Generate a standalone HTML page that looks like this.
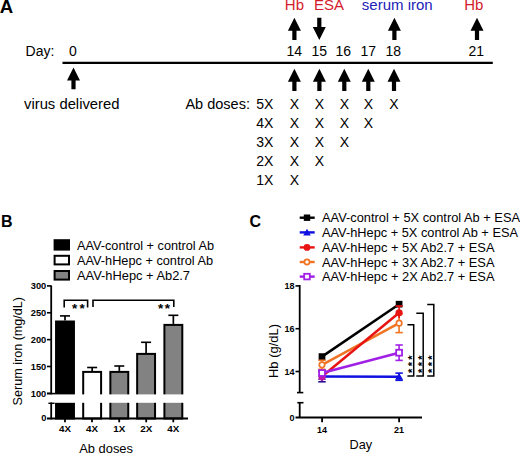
<!DOCTYPE html>
<html><head><meta charset="utf-8"><style>
html,body{margin:0;padding:0;background:#fff;width:520px;height:453px;overflow:hidden}
svg{display:block}
text{font-family:"Liberation Sans", sans-serif}
</style></head><body>
<svg width="520" height="453" viewBox="0 0 520 453">
<rect width="520" height="453" fill="#fff"/>
<text x="-0.3" y="12.7" font-size="18.6" fill="#000" font-weight="bold">A</text>
<text x="25.6" y="56.3" font-size="14" fill="#000">Day:</text>
<text x="72.8" y="56.3" font-size="14" fill="#000" text-anchor="middle">0</text>
<line x1="62.5" y1="62.8" x2="492.8" y2="62.8" stroke="#000" stroke-width="2.2"/>
<text x="294.3" y="56.0" font-size="14" fill="#000" text-anchor="middle">14</text>
<text x="319.3" y="56.0" font-size="14" fill="#000" text-anchor="middle">15</text>
<text x="343.2" y="56.0" font-size="14" fill="#000" text-anchor="middle">16</text>
<text x="368.2" y="56.0" font-size="14" fill="#000" text-anchor="middle">17</text>
<text x="393.2" y="56.0" font-size="14" fill="#000" text-anchor="middle">18</text>
<text x="476.3" y="56.0" font-size="14" fill="#000" text-anchor="middle">21</text>
<text x="284.8" y="10.2" font-size="15" fill="#d41c2c">Hb</text>
<text x="314.0" y="10.2" font-size="15" fill="#d41c2c">ESA</text>
<text x="361.8" y="10.2" font-size="15" fill="#2222b8">serum iron</text>
<text x="464.2" y="10.2" font-size="15" fill="#d41c2c">Hb</text>
<path d="M294.4,17.8 L300.9,30.8 L296.5,30.8 L296.5,40.0 L292.29999999999995,40.0 L292.29999999999995,30.8 L287.9,30.8 Z" fill="#000"/>
<path d="M319.3,39.9 L325.8,26.9 L321.40000000000003,26.9 L321.40000000000003,17.7 L317.2,17.7 L317.2,26.9 L312.8,26.9 Z" fill="#000"/>
<path d="M394.4,17.8 L400.9,30.8 L396.5,30.8 L396.5,40.0 L392.29999999999995,40.0 L392.29999999999995,30.8 L387.9,30.8 Z" fill="#000"/>
<path d="M477.0,17.8 L483.5,30.8 L479.1,30.8 L479.1,40.0 L474.9,40.0 L474.9,30.8 L470.5,30.8 Z" fill="#000"/>
<path d="M73.5,67.5 L80.0,80.5 L75.6,80.5 L75.6,89.2 L71.4,89.2 L71.4,80.5 L67.0,80.5 Z" fill="#000"/>
<path d="M294.4,68.8 L300.9,81.8 L296.5,81.8 L296.5,91.0 L292.29999999999995,91.0 L292.29999999999995,81.8 L287.9,81.8 Z" fill="#000"/>
<path d="M319.4,68.8 L325.9,81.8 L321.5,81.8 L321.5,91.0 L317.29999999999995,91.0 L317.29999999999995,81.8 L312.9,81.8 Z" fill="#000"/>
<path d="M344.3,68.8 L350.8,81.8 L346.40000000000003,81.8 L346.40000000000003,91.0 L342.2,91.0 L342.2,81.8 L337.8,81.8 Z" fill="#000"/>
<path d="M368.3,68.8 L374.8,81.8 L370.40000000000003,81.8 L370.40000000000003,91.0 L366.2,91.0 L366.2,81.8 L361.8,81.8 Z" fill="#000"/>
<path d="M394.0,68.8 L400.5,81.8 L396.1,81.8 L396.1,91.0 L391.9,91.0 L391.9,81.8 L387.5,81.8 Z" fill="#000"/>
<text x="24.0" y="108.5" font-size="14" fill="#000" textLength="95.5" lengthAdjust="spacingAndGlyphs">virus delivered</text>
<text x="185.4" y="108.9" font-size="14" fill="#000" textLength="64.6" lengthAdjust="spacingAndGlyphs">Ab doses:</text>
<text x="264.7" y="109.2" font-size="14" fill="#000" text-anchor="middle">5X</text>
<text x="294.4" y="109.2" font-size="14" fill="#000" text-anchor="middle">X</text>
<text x="319.4" y="109.2" font-size="14" fill="#000" text-anchor="middle">X</text>
<text x="344.3" y="109.2" font-size="14" fill="#000" text-anchor="middle">X</text>
<text x="368.3" y="109.2" font-size="14" fill="#000" text-anchor="middle">X</text>
<text x="394.0" y="109.2" font-size="14" fill="#000" text-anchor="middle">X</text>
<text x="264.7" y="128.17" font-size="14" fill="#000" text-anchor="middle">4X</text>
<text x="294.4" y="128.17" font-size="14" fill="#000" text-anchor="middle">X</text>
<text x="319.4" y="128.17" font-size="14" fill="#000" text-anchor="middle">X</text>
<text x="344.3" y="128.17" font-size="14" fill="#000" text-anchor="middle">X</text>
<text x="368.3" y="128.17" font-size="14" fill="#000" text-anchor="middle">X</text>
<text x="264.7" y="147.14" font-size="14" fill="#000" text-anchor="middle">3X</text>
<text x="294.4" y="147.14" font-size="14" fill="#000" text-anchor="middle">X</text>
<text x="319.4" y="147.14" font-size="14" fill="#000" text-anchor="middle">X</text>
<text x="344.3" y="147.14" font-size="14" fill="#000" text-anchor="middle">X</text>
<text x="264.7" y="166.11" font-size="14" fill="#000" text-anchor="middle">2X</text>
<text x="294.4" y="166.11" font-size="14" fill="#000" text-anchor="middle">X</text>
<text x="319.4" y="166.11" font-size="14" fill="#000" text-anchor="middle">X</text>
<text x="264.7" y="185.08" font-size="14" fill="#000" text-anchor="middle">1X</text>
<text x="294.4" y="185.08" font-size="14" fill="#000" text-anchor="middle">X</text>
<text x="1" y="227.4" font-size="16" fill="#000" font-weight="bold">B</text>
<rect x="54.6" y="240.2" width="14.4" height="9.4" fill="#000" stroke="#000" stroke-width="2"/>
<rect x="54.6" y="255.8" width="14.4" height="8.6" fill="#fff" stroke="#000" stroke-width="2"/>
<rect x="54.6" y="271.0" width="14.4" height="8.6" fill="#828282" stroke="#000" stroke-width="2"/>
<text x="77.0" y="249.8" font-size="13" fill="#000" textLength="137" lengthAdjust="spacingAndGlyphs">AAV-control + control Ab</text>
<text x="77.0" y="265.0" font-size="13" fill="#000" textLength="136" lengthAdjust="spacingAndGlyphs">AAV-hHepc + control Ab</text>
<text x="77.0" y="279.6" font-size="13" fill="#000" textLength="113" lengthAdjust="spacingAndGlyphs">AAV-hHepc + Ab2.7</text>
<line x1="51.2" y1="285.5" x2="51.2" y2="394.3" stroke="#000" stroke-width="1.8"/>
<line x1="51.2" y1="402.5" x2="51.2" y2="419.4" stroke="#000" stroke-width="1.8"/>
<line x1="47.0" y1="285.9" x2="51.2" y2="285.9" stroke="#000" stroke-width="1.6"/>
<text x="46.3" y="289.45" font-size="9.3" fill="#000" font-weight="bold" text-anchor="end">300</text>
<line x1="47.0" y1="312.7625" x2="51.2" y2="312.7625" stroke="#000" stroke-width="1.6"/>
<text x="46.3" y="316.3125" font-size="9.3" fill="#000" font-weight="bold" text-anchor="end">250</text>
<line x1="47.0" y1="339.625" x2="51.2" y2="339.625" stroke="#000" stroke-width="1.6"/>
<text x="46.3" y="343.175" font-size="9.3" fill="#000" font-weight="bold" text-anchor="end">200</text>
<line x1="47.0" y1="366.4875" x2="51.2" y2="366.4875" stroke="#000" stroke-width="1.6"/>
<text x="46.3" y="370.0375" font-size="9.3" fill="#000" font-weight="bold" text-anchor="end">150</text>
<line x1="47.0" y1="393.35" x2="51.2" y2="393.35" stroke="#000" stroke-width="1.6"/>
<text x="46.3" y="396.90000000000003" font-size="9.3" fill="#000" font-weight="bold" text-anchor="end">100</text>
<line x1="65.0" y1="315.9" x2="65.0" y2="320.5" stroke="#000" stroke-width="1.7"/>
<line x1="60.0" y1="315.9" x2="70.0" y2="315.9" stroke="#000" stroke-width="1.6"/>
<rect x="56.05" y="321.5" width="17.9" height="97.0" fill="#000" stroke="#000" stroke-width="2"/>
<line x1="92.15" y1="367.5" x2="92.15" y2="370.9" stroke="#000" stroke-width="1.7"/>
<line x1="87.15" y1="367.5" x2="97.15" y2="367.5" stroke="#000" stroke-width="1.6"/>
<rect x="83.2" y="371.9" width="17.9" height="46.60000000000002" fill="#fff" stroke="#000" stroke-width="2"/>
<line x1="119.3" y1="366.0" x2="119.3" y2="370.9" stroke="#000" stroke-width="1.7"/>
<line x1="114.3" y1="366.0" x2="124.3" y2="366.0" stroke="#000" stroke-width="1.6"/>
<rect x="110.35" y="371.9" width="17.9" height="46.60000000000002" fill="#828282" stroke="#000" stroke-width="2"/>
<line x1="146.1" y1="342.3" x2="146.1" y2="352.9" stroke="#000" stroke-width="1.7"/>
<line x1="141.1" y1="342.3" x2="151.1" y2="342.3" stroke="#000" stroke-width="1.6"/>
<rect x="137.15" y="353.9" width="17.9" height="64.60000000000002" fill="#828282" stroke="#000" stroke-width="2"/>
<line x1="173.35" y1="315.3" x2="173.35" y2="323.9" stroke="#000" stroke-width="1.7"/>
<line x1="168.35" y1="315.3" x2="178.35" y2="315.3" stroke="#000" stroke-width="1.6"/>
<rect x="164.4" y="324.9" width="17.9" height="93.60000000000002" fill="#828282" stroke="#000" stroke-width="2"/>
<rect x="52.2" y="394.4" width="140" height="8.4" fill="#fff"/>
<line x1="47.0" y1="393.6" x2="55.0" y2="393.6" stroke="#000" stroke-width="1.6"/>
<line x1="48.4" y1="403.3" x2="54.6" y2="403.3" stroke="#000" stroke-width="1.4"/>
<text x="46.4" y="421.3" font-size="9.3" fill="#000" font-weight="bold" text-anchor="end">0</text>
<line x1="47.0" y1="418.5" x2="188.0" y2="418.5" stroke="#000" stroke-width="2"/>
<line x1="65.0" y1="418.5" x2="65.0" y2="422.3" stroke="#000" stroke-width="1.8"/>
<text x="65.0" y="431.8" font-size="9.8" fill="#000" font-weight="bold" text-anchor="middle">4X</text>
<line x1="92.0" y1="418.5" x2="92.0" y2="422.3" stroke="#000" stroke-width="1.8"/>
<text x="92.0" y="431.8" font-size="9.8" fill="#000" font-weight="bold" text-anchor="middle">4X</text>
<line x1="119.2" y1="418.5" x2="119.2" y2="422.3" stroke="#000" stroke-width="1.8"/>
<text x="119.2" y="431.8" font-size="9.8" fill="#000" font-weight="bold" text-anchor="middle">1X</text>
<line x1="146.2" y1="418.5" x2="146.2" y2="422.3" stroke="#000" stroke-width="1.8"/>
<text x="146.2" y="431.8" font-size="9.8" fill="#000" font-weight="bold" text-anchor="middle">2X</text>
<line x1="173.3" y1="418.5" x2="173.3" y2="422.3" stroke="#000" stroke-width="1.8"/>
<text x="173.3" y="431.8" font-size="9.8" fill="#000" font-weight="bold" text-anchor="middle">4X</text>
<text x="79.2" y="453.0" font-size="13" fill="#000" textLength="53.8" lengthAdjust="spacingAndGlyphs">Ab doses</text>
<text x="0" y="0" font-size="13" fill="#000" textLength="108.5" lengthAdjust="spacingAndGlyphs" transform="translate(21.8,351.2) rotate(-90)" text-anchor="middle">Serum iron (mg/dL)</text>
<path d="M64.2,307.4 V300.2 H87.6 V307.4" fill="none" stroke="#000" stroke-width="1.6"/>
<path d="M93.0,307.0 V300.2 H173.8 V307.0" fill="none" stroke="#000" stroke-width="1.6"/>
<text x="74.6" y="312.5" font-size="13.5" fill="#000" font-weight="bold" text-anchor="middle">*</text>
<text x="82.1" y="312.5" font-size="13.5" fill="#000" font-weight="bold" text-anchor="middle">*</text>
<text x="160.6" y="313.0" font-size="13.5" fill="#000" font-weight="bold" text-anchor="middle">*</text>
<text x="167.5" y="313.0" font-size="13.5" fill="#000" font-weight="bold" text-anchor="middle">*</text>
<text x="249.5" y="227.2" font-size="16" fill="#000" font-weight="bold">C</text>
<line x1="299.7" y1="217.7" x2="314.7" y2="217.7" stroke="#000" stroke-width="2.4"/>
<rect x="303.8" y="214.5" width="6.4" height="6.4" fill="#000"/>
<line x1="299.7" y1="232.4" x2="314.7" y2="232.4" stroke="#1010e0" stroke-width="2.4"/>
<path d="M307.0,228.8 L310.8,235.4 L303.2,235.4 Z" fill="#1010e0"/>
<line x1="299.7" y1="247.4" x2="314.7" y2="247.4" stroke="#e81414" stroke-width="2.4"/>
<circle cx="307.0" cy="247.4" r="3.4" fill="#e81414"/>
<line x1="299.7" y1="262.0" x2="314.7" y2="262.0" stroke="#f07424" stroke-width="2.4"/>
<circle cx="307.0" cy="262.0" r="2.6" fill="#fff" stroke="#f07424" stroke-width="1.7"/>
<line x1="299.7" y1="276.6" x2="314.7" y2="276.6" stroke="#a020e6" stroke-width="2.4"/>
<rect x="304.2" y="273.8" width="5.6" height="5.6" fill="#fff" stroke="#a020e6" stroke-width="1.8"/>
<text x="322.0" y="222.2" font-size="13" fill="#000" textLength="198" lengthAdjust="spacingAndGlyphs">AAV-control + 5X control Ab + ESA</text>
<text x="322.0" y="236.8" font-size="13" fill="#000" textLength="196" lengthAdjust="spacingAndGlyphs">AAV-hHepc + 5X control Ab + ESA</text>
<text x="322.0" y="251.9" font-size="13" fill="#000" textLength="172.5" lengthAdjust="spacingAndGlyphs">AAV-hHepc + 5X Ab2.7 + ESA</text>
<text x="322.0" y="266.5" font-size="13" fill="#000" textLength="172.5" lengthAdjust="spacingAndGlyphs">AAV-hHepc + 3X Ab2.7 + ESA</text>
<text x="322.0" y="281.0" font-size="13" fill="#000" textLength="172.5" lengthAdjust="spacingAndGlyphs">AAV-hHepc + 2X Ab2.7 + ESA</text>
<line x1="299.7" y1="285.0" x2="299.7" y2="392.5" stroke="#000" stroke-width="1.8"/>
<line x1="299.7" y1="403.0" x2="299.7" y2="418.0" stroke="#000" stroke-width="1.8"/>
<line x1="297.0" y1="392.6" x2="303.3" y2="392.6" stroke="#000" stroke-width="1.6"/>
<line x1="297.3" y1="402.7" x2="303.5" y2="402.7" stroke="#000" stroke-width="1.6"/>
<line x1="295.5" y1="285.9" x2="299.7" y2="285.9" stroke="#000" stroke-width="1.6"/>
<text x="294.6" y="289.0" font-size="9" fill="#000" font-weight="bold" text-anchor="end">18</text>
<line x1="295.5" y1="328.7" x2="299.7" y2="328.7" stroke="#000" stroke-width="1.6"/>
<text x="294.6" y="331.8" font-size="9" fill="#000" font-weight="bold" text-anchor="end">16</text>
<line x1="295.5" y1="371.5" x2="299.7" y2="371.5" stroke="#000" stroke-width="1.6"/>
<text x="294.6" y="374.6" font-size="9" fill="#000" font-weight="bold" text-anchor="end">14</text>
<text x="294.4" y="420.6" font-size="9" fill="#000" font-weight="bold" text-anchor="end">0</text>
<line x1="295.5" y1="417.5" x2="422.0" y2="417.5" stroke="#000" stroke-width="2"/>
<line x1="322.1" y1="417.5" x2="322.1" y2="422.2" stroke="#000" stroke-width="1.8"/>
<text x="322.1" y="432.5" font-size="9" fill="#000" font-weight="bold" text-anchor="middle">14</text>
<line x1="399.1" y1="417.5" x2="399.1" y2="422.2" stroke="#000" stroke-width="1.8"/>
<text x="399.1" y="432.5" font-size="9" fill="#000" font-weight="bold" text-anchor="middle">21</text>
<text x="349.6" y="449.2" font-size="13" fill="#000" textLength="22.6" lengthAdjust="spacingAndGlyphs">Day</text>
<text x="0" y="0" font-size="13" fill="#000" transform="translate(278.4,351.0) rotate(-90)" text-anchor="middle">Hb (g/dL)</text>
<line x1="322.0" y1="356.6" x2="399.1" y2="304.2" stroke="#000" stroke-width="2.5"/>
<rect x="318.64" y="353.24" width="6.720000000000001" height="6.720000000000001" fill="#000"/>
<rect x="395.74" y="300.84" width="6.720000000000001" height="6.720000000000001" fill="#000"/>
<line x1="322.0" y1="376.5" x2="399.1" y2="376.7" stroke="#1010e0" stroke-width="2.5"/>
<line x1="322.0" y1="371.2" x2="322.0" y2="376.5" stroke="#2a0890" stroke-width="1.6"/>
<line x1="318.3" y1="371.2" x2="325.7" y2="371.2" stroke="#2a0890" stroke-width="1.6"/>
<line x1="322.0" y1="376.5" x2="322.0" y2="381.8" stroke="#2a0890" stroke-width="1.6"/>
<line x1="318.3" y1="381.8" x2="325.7" y2="381.8" stroke="#2a0890" stroke-width="1.6"/>
<path d="M322.0,372.72 L325.99,379.65 L318.01,379.65 Z" fill="#2a0890"/>
<line x1="399.1" y1="373.09999999999997" x2="399.1" y2="376.7" stroke="#1010e0" stroke-width="1.6"/>
<line x1="395.40000000000003" y1="373.09999999999997" x2="402.8" y2="373.09999999999997" stroke="#1010e0" stroke-width="1.6"/>
<line x1="399.1" y1="376.7" x2="399.1" y2="380.3" stroke="#1010e0" stroke-width="1.6"/>
<line x1="395.40000000000003" y1="380.3" x2="402.8" y2="380.3" stroke="#1010e0" stroke-width="1.6"/>
<path d="M399.1,372.92 L403.09000000000003,379.84999999999997 L395.11,379.84999999999997 Z" fill="#1010e0"/>
<line x1="322.0" y1="364.8" x2="399.1" y2="323.2" stroke="#f07424" stroke-width="2.5"/>
<line x1="322.0" y1="360.3" x2="322.0" y2="364.8" stroke="#f07424" stroke-width="1.6"/>
<line x1="318.3" y1="360.3" x2="325.7" y2="360.3" stroke="#f07424" stroke-width="1.6"/>
<line x1="322.0" y1="364.8" x2="322.0" y2="369.3" stroke="#f07424" stroke-width="1.6"/>
<line x1="318.3" y1="369.3" x2="325.7" y2="369.3" stroke="#f07424" stroke-width="1.6"/>
<circle cx="322.0" cy="364.8" r="2.7300000000000004" fill="#fff" stroke="#f07424" stroke-width="1.7"/>
<line x1="399.1" y1="313.8" x2="399.1" y2="323.2" stroke="#f07424" stroke-width="1.6"/>
<line x1="395.40000000000003" y1="313.8" x2="402.8" y2="313.8" stroke="#f07424" stroke-width="1.6"/>
<line x1="399.1" y1="323.2" x2="399.1" y2="332.59999999999997" stroke="#f07424" stroke-width="1.6"/>
<line x1="395.40000000000003" y1="332.59999999999997" x2="402.8" y2="332.59999999999997" stroke="#f07424" stroke-width="1.6"/>
<circle cx="399.1" cy="323.2" r="2.7300000000000004" fill="#fff" stroke="#f07424" stroke-width="1.7"/>
<line x1="322.0" y1="376.5" x2="399.1" y2="312.7" stroke="#e81414" stroke-width="2.5"/>
<circle cx="322.0" cy="377.0" r="3.57" fill="#c414a8"/>
<line x1="399.1" y1="306.0" x2="399.1" y2="312.7" stroke="#e81414" stroke-width="1.6"/>
<line x1="395.40000000000003" y1="306.0" x2="402.8" y2="306.0" stroke="#e81414" stroke-width="1.6"/>
<line x1="399.1" y1="312.7" x2="399.1" y2="318.2" stroke="#e81414" stroke-width="1.6"/>
<circle cx="399.1" cy="312.7" r="3.57" fill="#e81414"/>
<line x1="322.0" y1="373.0" x2="399.1" y2="352.7" stroke="#a020e6" stroke-width="2.5"/>
<rect x="319.06" y="370.06" width="5.88" height="5.88" fill="#fff" stroke="#a020e6" stroke-width="1.8"/>
<line x1="399.1" y1="345.0" x2="399.1" y2="352.7" stroke="#a020e6" stroke-width="1.6"/>
<line x1="395.40000000000003" y1="345.0" x2="402.8" y2="345.0" stroke="#a020e6" stroke-width="1.6"/>
<line x1="399.1" y1="352.7" x2="399.1" y2="360.4" stroke="#a020e6" stroke-width="1.6"/>
<line x1="395.40000000000003" y1="360.4" x2="402.8" y2="360.4" stroke="#a020e6" stroke-width="1.6"/>
<rect x="396.16" y="349.76" width="5.88" height="5.88" fill="#fff" stroke="#a020e6" stroke-width="1.8"/>
<path d="M407.4,324.7 H413.7 V376.0 H407.4" fill="none" stroke="#000" stroke-width="1.5"/>
<path d="M416.3,313.2 H423.2 V376.0 H416.3" fill="none" stroke="#000" stroke-width="1.5"/>
<path d="M427.2,304.6 H433.8 V376.0 H427.2" fill="none" stroke="#000" stroke-width="1.5"/>
<g transform="translate(410.2,357.7) rotate(-90)"><text x="0" y="5.55" font-size="11" font-weight="bold" text-anchor="middle">*</text></g>
<g transform="translate(410.2,364.2) rotate(-90)"><text x="0" y="5.55" font-size="11" font-weight="bold" text-anchor="middle">*</text></g>
<g transform="translate(410.2,370.9) rotate(-90)"><text x="0" y="5.55" font-size="11" font-weight="bold" text-anchor="middle">*</text></g>
<g transform="translate(420.5,357.7) rotate(-90)"><text x="0" y="5.55" font-size="11" font-weight="bold" text-anchor="middle">*</text></g>
<g transform="translate(420.5,364.2) rotate(-90)"><text x="0" y="5.55" font-size="11" font-weight="bold" text-anchor="middle">*</text></g>
<g transform="translate(420.5,370.9) rotate(-90)"><text x="0" y="5.55" font-size="11" font-weight="bold" text-anchor="middle">*</text></g>
<g transform="translate(430.4,357.7) rotate(-90)"><text x="0" y="5.55" font-size="11" font-weight="bold" text-anchor="middle">*</text></g>
<g transform="translate(430.4,364.2) rotate(-90)"><text x="0" y="5.55" font-size="11" font-weight="bold" text-anchor="middle">*</text></g>
<g transform="translate(430.4,370.9) rotate(-90)"><text x="0" y="5.55" font-size="11" font-weight="bold" text-anchor="middle">*</text></g>
</svg>
</body></html>
